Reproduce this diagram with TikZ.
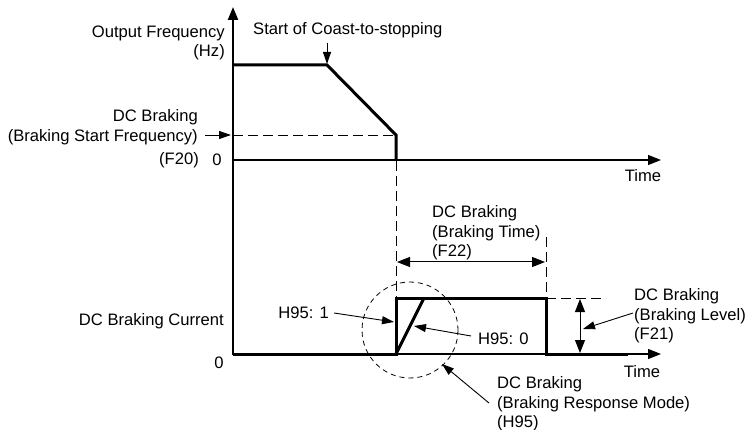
\documentclass[tikz,border=0pt]{standalone}
\usepackage{fontspec}
\setmainfont{Liberation Sans}
\usetikzlibrary{arrows.meta}
\begin{document}
\begin{tikzpicture}[x=1pt,y=-1pt,>={Triangle[length=13pt,width=10pt]},
	every node/.style={font=\fontsize{16.6}{19.5}\selectfont,inner sep=0pt},
	wave/.style={line width=3pt,line join=miter},
	axis/.style={line width=1.3pt,->},
	guide/.style={line width=0.9pt,dash pattern=on 10pt off 5pt},
	pointer/.style={line width=0.9pt,->,>={Triangle[length=12pt,width=8pt]}}]
	
	\useasboundingbox (0,0) rectangle (752,430);
	
	% axes
	\draw[axis,line width=2.2pt] (233,355)--(233,7);
	\draw[axis] (233,160)--(661,160);
	\draw[axis] (233,354)--(661,354);
	
	% output frequency
	\draw[wave] (233,65)--(327,65)--(396,135)--(396,161);
	\draw[guide] (233,135)--(396,135);
	\draw[guide] (396,161)--(396,298);
	
	% braking current
	\draw[wave] (233,354)--(396,354)--(396,298)--(546,298)--(546,354)--(628,354);
	\draw[wave] (396,354)--(424,298);
	\draw[guide] (546,237)--(546,298);
	\draw[guide] (546,298)--(606,298);
	\draw[line width=0.8pt,dash pattern=on 5pt off 4pt] (410,330) circle (48);
	
	\draw[<->,line width=1pt] (397,262)--(545,262);
	\draw[<->,line width=1pt] (580,299)--(580,353);
	
	% labels
	\node[anchor=east,align=right] (ofreq) at (225,43) {Output Frequency\\(Hz)};
	\node[anchor=west] (coast) at (253,30) {Start of Coast-to-stopping};
	\node[anchor=east,align=right] (bsf) at (198,127) {DC Braking\\(Braking Start Frequency)};
	\node[anchor=east] (f20) at (199,160) {(F20)};
	\node (zero1) at (217,160) {0};
	\node (time1) at (643,176) {Time};
	\node[anchor=east] (dcbc) at (224,321) {DC Braking Current};
	\node (zero2) at (219,363) {0};
	\node (time2) at (642,372) {Time};
	\node[anchor=west,align=left] (btime) at (432,233) {DC Braking\\(Braking Time)\\(F22)};
	\node[anchor=west,align=left] (blevel) at (634,316) {DC Braking\\(Braking Level)\\(F21)};
	\node[anchor=east] (hone) at (329,313) {H95: 1};
	\node[anchor=west] (hzero) at (478,339) {H95: 0};
	\node[anchor=west,align=left] (rmode) at (497,404) {DC Braking\\(Braking Response Mode)\\(H95)};
	
	% pointers
	\coordinate (coastpt) at (327,64);
	\coordinate (bsfpt) at (231,135);
	\coordinate (onept) at (394,322);
	\coordinate (zeropt) at (414,326);
	\coordinate (modept) at (442,364);
	\coordinate (levelpt) at (583,329);
	
	\draw[pointer] (327,43)--(coastpt);
	\draw[pointer] (bsf.east |- bsfpt) ++(7,0)--(bsfpt);
	\draw[pointer] (hone.east) ++(5,0)--(onept);
	\draw[pointer] (hzero.west) ++(-7,-3)--(zeropt);
	\draw[pointer] (489,403)--(modept);
	\draw[pointer] (633,313)--(levelpt);
	
\end{tikzpicture}
\end{document}
